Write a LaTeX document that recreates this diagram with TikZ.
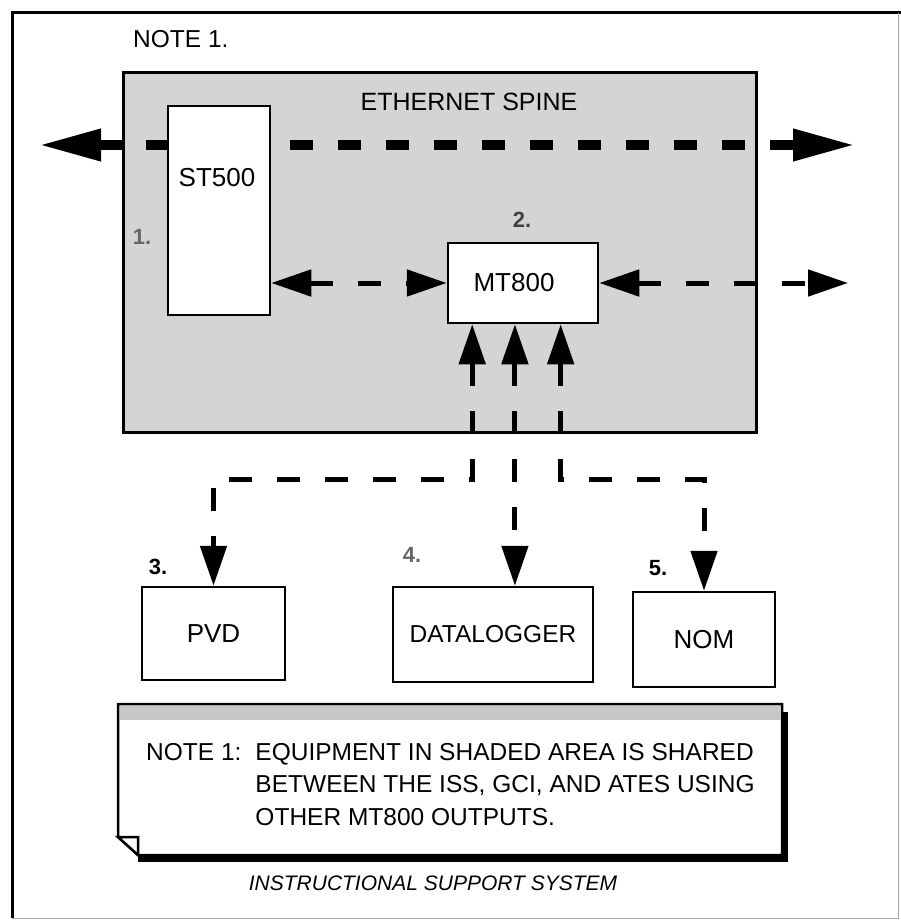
\documentclass[tikz,border=0pt]{standalone}
\usepackage{fontspec}
\setmainfont{Liberation Sans}
\usetikzlibrary{positioning, arrows.meta, calc}

\begin{document}
\begin{tikzpicture}[x=1pt, y=-1pt,
    area/.style={draw, line width=3pt, fill=black!17},
    unit/.style={draw, line width=2.5pt, fill=white, inner sep=0pt},
    tag/.style={font=\fontsize{26}{26}\selectfont, inner sep=0pt},
    txt/.style={font=\fontsize{24.5}{32.5}\selectfont, inner sep=0pt},
    num/.style={font=\bfseries\fontsize{22}{22}\selectfont, inner sep=0pt},
    spine/.style={line width=10pt},
    spinetip/.style={-{Triangle[length=62pt, width=30pt]}},
    link/.style={line width=5pt, dash pattern=on 23pt off 25pt},
    both/.style={{Triangle[length=40pt, width=26pt]}-{Triangle[length=40pt, width=26pt]}}]
    \useasboundingbox (0,0) rectangle (901,923);
    % frame
    \draw[line width=3pt] (12,918) -- (12,13) -- (901,13);
    \draw[black!35, line width=1pt] (898,13) -- (898,918) -- (12,918);
    \node[txt, anchor=west] (note-mark) at (133,39) {NOTE 1.};

    % shaded area and spine
    \node[area, minimum width=633, minimum height=359] (shared) at (439.5,252.5) {};
    \node[txt, font=\fontsize{25}{25}\selectfont] (spine-lbl) at (469,102) {ETHERNET SPINE};
    \coordinate (sp-w) at (39,145);
    \coordinate (sp-e) at (855,145);
    \draw[spine, dash pattern=on 23pt off 25pt] ($(shared.west |- sp-w)+(24,0)$) -- ($(shared.east |- sp-e)+(-10,0)$);
    \draw[spine, spinetip] (shared.west |- sp-w) -- (sp-w);
    \draw[spine, spinetip] ($(shared.east |- sp-e)+(12,0)$) -- (sp-e);

    \node[unit, minimum width=102, minimum height=209] (st) at (219,210.5) {};
    \node[tag] (st-lbl) at (217,178) {ST500};
    \node[num, text=black!60] (n1) at (142,237) {1.};
    \node[unit, minimum width=150, minimum height=80] (mt) at (523,283) {};
    \node[tag] (mt-lbl) at (514,283) {MT800};
    \node[num, text=black!75] (n2) at (522,220) {2.};

    \coordinate (mt-out) at (848,283);
    \draw[link, both] (st.east |- mt.west) -- (mt.west);
    \draw[link, both] (mt.east) -- (mt-out);

    % outputs
    \node[unit, tag, minimum width=143, minimum height=93] (pvd) at (213.5,633.5) {PVD};
    \node[unit, txt, minimum width=200, minimum height=95] (dlog) at (493,634.5) {DATALOGGER};
    \node[unit, tag, minimum width=142, minimum height=95] (nom) at (704,639.5) {NOM};
    \node[num] (n3) at (158,567) {3.};
    \node[num, text=black!60] (n4) at (412,555) {4.};
    \node[num] (n5) at (658,568) {5.};

    \coordinate (in-a) at ($(mt.south west)!0.167!(mt.south east)$);
    \coordinate (in-b) at ($(mt.south west)!0.447!(mt.south east)$);
    \coordinate (in-c) at ($(mt.south west)!0.747!(mt.south east)$);
    \coordinate (bus) at (0,479);
    \draw[link, both] (in-a) -- (in-a |- bus) -- (pvd.north |- bus) -- (pvd.north);
    \draw[link, both] (in-b) -- (in-b |- dlog.north);
    \draw[link, both] (in-c) -- (in-c |- bus) -- (nom.north |- bus) -- (nom.north);

    % note
    \fill (138,712) rectangle (788,862);
    \draw[line width=2.5pt, fill=white] (118,704) -- (782,704) -- (782,855) -- (138,855) -- (118,837) -- cycle;
    \fill[black!22] (119.5,705.5) rectangle (780.5,720);
    \draw[line width=2.5pt, fill=white] (118,837) -- (138,837) -- (138,855) -- cycle;
    \node[txt, anchor=base west] (note) at (146,760) {\begin{tabular}[t]{@{}l@{\hspace{14pt}}l@{}}
        NOTE 1: & EQUIPMENT IN SHADED AREA IS SHARED\\
                & BETWEEN THE ISS, GCI, AND ATES USING\\
                & OTHER MT800 OUTPUTS.
      \end{tabular}};
    \node[font=\itshape\fontsize{21}{21}\selectfont, inner sep=0pt] (caption) at (433,883) {INSTRUCTIONAL SUPPORT SYSTEM};
  \end{tikzpicture}
\end{document}
